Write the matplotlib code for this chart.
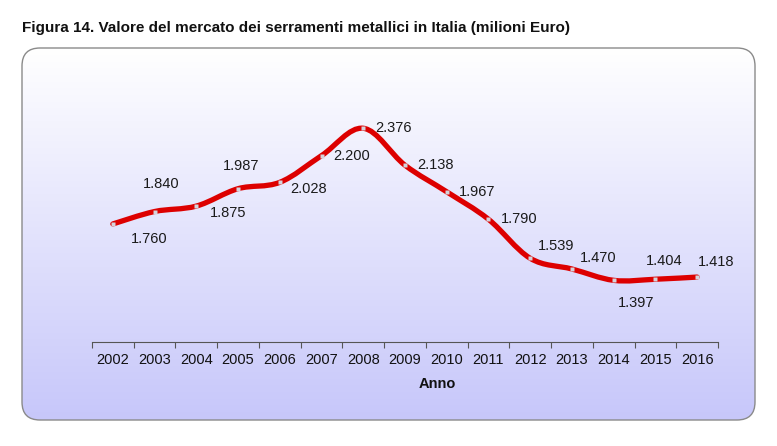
import matplotlib.pyplot as plt
import numpy as np
from matplotlib.patches import FancyBboxPatch
from matplotlib.path import Path
from matplotlib.patches import PathPatch

plt.rcParams['font.family'] = ['Liberation Sans', 'DejaVu Sans']

years = ['2002', '2003', '2004', '2005', '2006', '2007', '2008', '2009',
         '2010', '2011', '2012', '2013', '2014', '2015', '2016']
values = [1760, 1840, 1875, 1987, 2028, 2200, 2376, 2138,
          1967, 1790, 1539, 1470, 1397, 1404, 1418]
value_labels = ['1.760', '1.840', '1.875', '1.987', '2.028', '2.200', '2.376', '2.138',
                '1.967', '1.790', '1.539', '1.470', '1.397', '1.404', '1.418']
# label offsets in points (dx, dy)
offsets = [(26, -11), (5, 20), (23, -5), (2, 16), (21, -5), (22, 0), (22, 0), (22, 0),
           (22, 0), (22, 0), (19, 9), (19, 8), (16, -16), (6, 13), (14, 11)]

fig = plt.figure(figsize=(7.77, 4.46), dpi=100)

# background rounded box with gradient
bg = fig.add_axes([0, 0, 1, 1])
bg.set_xlim(0, 777)
bg.set_ylim(446, 0)
bg.axis('off')
box = FancyBboxPatch((22, 48), 733, 372, boxstyle='round,pad=0,rounding_size=18',
                     facecolor='none', edgecolor='#8a8a8a', linewidth=1.0, zorder=3)
bg.add_patch(box)
grad = np.linspace(0, 1, 256).reshape(-1, 1)
top = np.array([1.0, 1.0, 1.0])
bot = np.array([0.78, 0.78, 0.98])
img = top + (bot - top) * grad[..., None]
im = bg.imshow(img, extent=[22, 755, 420, 48], aspect='auto', zorder=1)
clip = FancyBboxPatch((22, 48), 733, 372, boxstyle='round,pad=0,rounding_size=18',
                      facecolor='none', edgecolor='none', transform=bg.transData)
bg.add_patch(clip)
im.set_clip_path(clip)

fig.text(22 / 777, 1 - 28 / 446, 'Figura 14. Valore del mercato dei serramenti metallici in Italia (milioni Euro)',
         fontsize=11, fontweight='bold', va='center', ha='left', color='#111111')
fig.text(437 / 777, 1 - 384 / 446, 'Anno', fontsize=10.5, fontweight='bold',
         ha='center', va='center', color='#111111')

ax = fig.add_axes([92 / 777, 104 / 446, 626 / 777, 233 / 446])
ax.patch.set_alpha(0)
x = np.arange(len(years))
ax.set_xlim(-0.5, len(years) - 0.5)
ax.set_ylim(1000, 2500)

# smooth line via cubic bezier segments (Catmull-Rom style control points)
pts = np.column_stack([x, values]).astype(float)
verts = [pts[0]]
codes = [Path.MOVETO]
t = 0.17
for i in range(len(pts) - 1):
    p0 = pts[i - 1] if i > 0 else pts[i]
    p1 = pts[i]
    p2 = pts[i + 1]
    p3 = pts[i + 2] if i + 2 < len(pts) else pts[i + 1]
    c1 = p1 + (p2 - p0) * t
    c2 = p2 - (p3 - p1) * t
    verts += [c1, c2, p2]
    codes += [Path.CURVE4] * 3
path = Path(verts, codes)
ax.add_patch(PathPatch(path, facecolor='none', edgecolor='#dd0000', linewidth=3.8,
                       capstyle='round', zorder=3))
ax.plot(x, values, linestyle='none', marker='s', markersize=3.5,
        markerfacecolor='#d4d4dc', markeredgecolor='none', zorder=4)

for xi, v, lab, (dx, dy) in zip(x, values, value_labels, offsets):
    ax.annotate(lab, (xi, v), xytext=(dx, dy), textcoords='offset points',
                ha='center', va='center', fontsize=10.5, color='#1a1a1a')

for s in ['top', 'right', 'left']:
    ax.spines[s].set_visible(False)
ax.spines['bottom'].set_color('#555555')
ax.spines['bottom'].set_linewidth(0.8)
ax.set_yticks([])
ax.set_xticks(np.arange(-0.5, len(years), 1.0))
ax.set_xticklabels([])
ax.tick_params(axis='x', length=4, color='#555555', width=0.8)
ax.set_xticks(x, minor=True)
ax.set_xticklabels(years, minor=True, fontsize=10.5, color='#111111')
ax.tick_params(axis='x', which='minor', length=0, pad=8)

fig.savefig('out.png', dpi=100)
